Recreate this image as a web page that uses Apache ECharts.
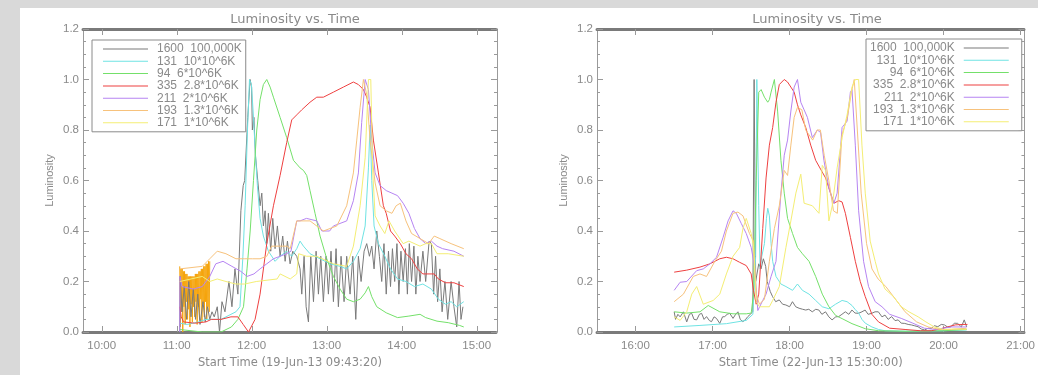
<!DOCTYPE html>
<html><head><meta charset="utf-8">
<script src="https://cdn.jsdelivr.net/npm/echarts@6/dist/echarts.min.js"></script>
<style>html,body{margin:0;padding:0;background:#d9d9d9}#c{width:1038px;height:375px}</style>
</head><body><div id="c"></div><script>
// ---------- DATA ----------
const seriesNames = ['1600  100,000K','131  10*10^6K','94  6*10^6K','335  2.8*10^6K','211  2*10^6K','193  1.3*10^6K','171  1*10^6K'];
const titleText = 'Luminosity vs. Time';
const yName = 'Luminosity';
const xNameL = 'Start Time (19-Jun-13 09:43:20)';
const xNameR = 'Start Time (22-Jun-13 15:30:00)';
const xTicksL = [10,11,12,13,14,15];
const xTicksR = [16,17,18,19,20,21];
const xRangeL = [9.75, 15.27];
const xRangeR = [15.5, 21.05];

// Left panel (time in decimal hours, luminosity)
const L1600 = [[11.04,0.0],[11.045,0.22],[11.07,0.08],[11.10,0.18],[11.13,0.05],[11.16,0.20],[11.19,0.06],[11.22,0.17],[11.25,0.05],[11.28,0.15],[11.31,0.03],[11.35,0.12],[11.38,0.04],[11.41,0.10],[11.44,0.05],[11.47,0.08],[11.50,0.06],[11.54,0.10],[11.57,0.0],[11.603,0.12],[11.643,0.08],[11.696,0.20],[11.736,0.10],[11.776,0.25],[11.815,0.15],[11.855,0.48],[11.886,0.58],[11.906,0.60],[11.947,0.85],[11.978,1.0],[11.998,0.97],[12.008,0.80],[12.029,0.85],[12.049,0.70],[12.08,0.60],[12.111,0.50],
[12.134,0.55],[12.155,0.42],[12.178,0.48],[12.200,0.35],[12.222,0.47],[12.253,0.32],[12.280,0.45],[12.311,0.33],[12.342,0.42],[12.378,0.30],[12.413,0.38],[12.445,0.28],[12.476,0.36],[12.511,0.27],[12.547,0.32],[12.600,0.30],[12.644,0.25],[12.667,0.15],[12.698,0.30],[12.725,0.10],[12.756,0.04],[12.787,0.30],[12.823,0.12],[12.858,0.32],[12.889,0.15],[12.920,0.30],[12.955,0.12],[12.991,0.30],[13.022,0.15],[13.057,0.32],[13.089,0.12],[13.124,0.33],[13.155,0.10],[13.191,0.30],[13.231,0.12],[13.266,0.30],[13.311,0.15],[13.347,0.30],[13.387,0.05],[13.422,0.30],[13.458,0.20],[13.498,0.32],[13.533,0.35],[13.569,0.30],[13.600,0.34],[13.631,0.25],[13.667,0.40],[13.702,0.30],[13.733,0.20],[13.763,0.35],[13.793,0.15],[13.823,0.32],[13.850,0.18],[13.876,0.33],[13.906,0.20],[13.936,0.35],[13.962,0.15],[13.989,0.32],[14.019,0.20],[14.049,0.33],[14.075,0.15],[14.101,0.35],[14.131,0.20],[14.162,0.34],[14.188,0.15],[14.215,0.30],[14.244,0.20],[14.282,0.32],[14.319,0.20],[14.365,0.36],[14.395,0.35],[14.425,0.15],[14.451,0.30],[14.478,0.12],[14.508,0.25],[14.538,0.08],[14.576,0.20],[14.613,0.05],[14.658,0.20],[14.696,0.10],[14.733,0.02],[14.764,0.20],[14.790,0.05],[14.816,0.10]];
const L131 = [[11.04,0.035],[11.14,0.03],[11.29,0.04],[11.39,0.05],[11.49,0.05],[11.59,0.05],[11.7225,0.07],[11.789,0.08],[11.843,0.10],[11.882,0.30],[11.912,0.50],[11.943,0.80],[11.970,1.0],[11.996,0.98],[12.023,0.85],[12.05,0.70],[12.075,0.58],[12.111,0.45],[12.155,0.38],[12.222,0.32],[12.311,0.28],[12.378,0.30],[12.466,0.32],[12.533,0.30],[12.600,0.33],[12.644,0.36],[12.689,0.34],[12.777,0.31],[12.911,0.29],[13.044,0.27],[13.178,0.26],[13.266,0.25],[13.355,0.28],[13.445,0.33],[13.512,0.42],[13.556,0.65],[13.578,0.82],[13.600,0.60],[13.631,0.42],[13.689,0.35],[13.774,0.30],[13.850,0.25],[13.944,0.21],[14.056,0.20],[14.169,0.18],[14.282,0.19],[14.395,0.17],[14.488,0.13],[14.583,0.11],[14.658,0.12],[14.733,0.10],[14.827,0.12]];
const L94 = [[11.04,0.01],[11.34,0.0],[11.59,0.0],[11.729,0.02],[11.815,0.05],[11.890,0.10],[11.937,0.25],[11.979,0.40],[12.023,0.60],[12.067,0.80],[12.111,0.92],[12.155,0.98],[12.200,1.0],[12.245,0.97],[12.289,0.93],[12.378,0.85],[12.466,0.77],[12.556,0.68],[12.600,0.665],[12.644,0.65],[12.689,0.64],[12.733,0.62],[12.777,0.56],[12.844,0.47],[12.911,0.38],[13.000,0.29],[13.089,0.22],[13.178,0.17],[13.266,0.13],[13.355,0.12],[13.445,0.13],[13.512,0.155],[13.556,0.18],[13.600,0.14],[13.667,0.10],[13.793,0.076],[13.944,0.057],[14.095,0.063],[14.244,0.07],[14.319,0.057],[14.470,0.043],[14.620,0.037],[14.771,0.026],[14.827,0.02]];
const L335 = [[11.04,0.10],[11.06,0.06],[11.09,0.04],[11.24,0.035],[11.39,0.04],[11.46,0.05],[11.59,0.05],[11.7225,0.06],[11.815,0.06],[11.886,0.03],[11.957,0.0],[11.979,0.0],[12.044,0.05],[12.111,0.15],[12.200,0.35],[12.289,0.50],[12.378,0.62],[12.466,0.75],[12.533,0.84],[12.600,0.86],[12.667,0.88],[12.777,0.91],[12.867,0.93],[12.955,0.93],[13.089,0.95],[13.222,0.97],[13.355,0.99],[13.422,0.98],[13.489,0.96],[13.533,0.93],[13.578,0.89],[13.622,0.76],[13.689,0.63],[13.755,0.50],[13.793,0.47],[13.850,0.40],[13.906,0.38],[13.981,0.35],[14.056,0.31],[14.131,0.29],[14.207,0.25],[14.282,0.23],[14.433,0.23],[14.488,0.21],[14.583,0.195],[14.696,0.195],[14.827,0.18]];
const L211 = [[11.04,0.0],[11.043,0.22],[11.07,0.18],[11.22,0.17],[11.34,0.18],[11.44,0.22],[11.52,0.27],[11.617,0.28],[11.736,0.26],[11.855,0.24],[11.937,0.22],[12.029,0.23],[12.111,0.25],[12.200,0.27],[12.289,0.29],[12.378,0.30],[12.466,0.31],[12.523,0.32],[12.600,0.44],[12.644,0.44],[12.729,0.45],[12.867,0.44],[12.935,0.40],[13.038,0.40],[13.089,0.42],[13.266,0.44],[13.355,0.52],[13.422,0.63],[13.466,0.83],[13.512,1.0],[13.556,0.96],[13.600,0.76],[13.645,0.63],[13.711,0.58],[13.793,0.56],[13.869,0.55],[13.944,0.54],[14.019,0.51],[14.095,0.47],[14.169,0.41],[14.244,0.37],[14.319,0.35],[14.395,0.36],[14.470,0.34],[14.545,0.33],[14.696,0.32],[14.827,0.30]];
const L193 = [[11.04,0.25],[11.34,0.26],[11.44,0.29],[11.54,0.32],[11.656,0.31],[11.789,0.29],[11.906,0.29],[12.009,0.29],[12.111,0.29],[12.200,0.30],[12.265,0.34],[12.471,0.34],[12.513,0.33],[12.600,0.44],[12.777,0.44],[12.955,0.40],[13.134,0.42],[13.266,0.50],[13.355,0.63],[13.400,0.76],[13.445,0.89],[13.489,1.0],[13.533,0.94],[13.578,0.76],[13.645,0.59],[13.711,0.50],[13.793,0.48],[13.869,0.47],[13.925,0.50],[13.981,0.51],[14.056,0.44],[14.131,0.39],[14.244,0.37],[14.358,0.35],[14.433,0.38],[14.508,0.37],[14.658,0.35],[14.827,0.33]];
const L171 = [[11.04,0.20],[11.34,0.22],[11.44,0.20],[11.54,0.21],[11.656,0.20],[11.789,0.19],[11.906,0.19],[12.06,0.20],[12.338,0.21],[12.379,0.23],[12.513,0.21],[12.600,0.23],[12.626,0.31],[12.729,0.30],[12.867,0.30],[13.089,0.27],[13.266,0.26],[13.355,0.34],[13.445,0.50],[13.512,0.69],[13.556,1.0],[13.587,1.0],[13.614,0.63],[13.645,0.46],[13.711,0.42],[13.774,0.39],[13.830,0.44],[13.906,0.40],[14.019,0.35],[14.095,0.36],[14.244,0.34],[14.319,0.35],[14.395,0.35],[14.470,0.31],[14.620,0.31],[14.827,0.30]];
// saturated orange burst at the start of the 193 channel
const L193burst = [[11.040,0.26],[11.048,0.02],[11.056,0.25],[11.064,0.08],[11.072,0.25],[11.080,0.0],[11.088,0.24],[11.096,0.10],[11.104,0.24],[11.112,0.03],[11.120,0.23],[11.128,0.12],[11.136,0.23],[11.144,0.05],[11.152,0.22],[11.160,0.09],[11.168,0.22],[11.176,0.02],[11.184,0.22],[11.192,0.11],[11.200,0.22],[11.208,0.04],[11.216,0.22],[11.224,0.10],[11.232,0.22],[11.240,0.06],[11.248,0.23],[11.256,0.12],[11.264,0.23],[11.272,0.03],[11.280,0.23],[11.288,0.10],[11.296,0.24],[11.304,0.05],[11.312,0.24],[11.320,0.13],[11.328,0.25],[11.336,0.04],[11.344,0.25],[11.352,0.11],[11.360,0.26],[11.368,0.06],[11.376,0.26],[11.384,0.12],[11.392,0.27],[11.400,0.05],[11.408,0.27],[11.416,0.10],[11.424,0.28],[11.432,0.08],[11.440,0.28]];

// Right panel
const R1600 = [[16.502,0.08],[16.52,0.05],[16.55,0.07],[16.579,0.06],[16.622,0.08],[16.665,0.04],[16.70,0.07],[16.729,0.074],[16.76,0.05],[16.794,0.048],[16.83,0.07],[16.858,0.074],[16.89,0.05],[16.922,0.061],[16.96,0.045],[16.987,0.041],[17.02,0.06],[17.051,0.054],[17.094,0.034],[17.13,0.06],[17.158,0.061],[17.19,0.07],[17.223,0.074],[17.266,0.054],[17.30,0.07],[17.33,0.08],[17.36,0.05],[17.394,0.041],[17.43,0.05],[17.458,0.061],[17.49,0.07],[17.523,0.08],[17.54,1.0],[17.56,0.20],[17.60,0.27],[17.63,0.25],[17.66,0.29],[17.69,0.26],[17.71,0.20],[17.75,0.16],[17.78,0.14],[17.82,0.12],[17.866,0.127],[17.91,0.11],[17.952,0.107],[18.0,0.10],[18.038,0.12],[18.08,0.10],[18.124,0.094],[18.17,0.09],[18.21,0.087],[18.25,0.09],[18.295,0.08],[18.34,0.09],[18.381,0.087],[18.42,0.07],[18.467,0.08],[18.51,0.06],[18.552,0.048],[18.60,0.06],[18.638,0.061],[18.68,0.07],[18.724,0.08],[18.77,0.07],[18.81,0.087],[18.85,0.075],[18.896,0.074],[18.94,0.08],[18.981,0.087],[19.02,0.07],[19.067,0.074],[19.11,0.08],[19.153,0.08],[19.20,0.06],[19.239,0.067],[19.28,0.05],[19.325,0.061],[19.37,0.045],[19.41,0.048],[19.45,0.035],[19.496,0.034],[19.54,0.03],[19.582,0.028],[19.62,0.025],[19.668,0.021],[19.71,0.012],[19.754,0.008],[19.80,0.015],[19.84,0.014],[19.88,0.025],[19.925,0.021],[19.97,0.03],[20.011,0.028],[20.05,0.02],[20.097,0.021],[20.14,0.035],[20.183,0.034],[20.23,0.02],[20.268,0.048],[20.30,0.02]];
const R131 = [[16.502,0.02],[16.837,0.026],[17.18,0.033],[17.438,0.046],[17.524,0.07],[17.56,0.30],[17.575,1.0],[17.59,1.0],[17.60,0.50],[17.618,0.25],[17.64,0.30],[17.674,0.35],[17.70,0.45],[17.717,0.49],[17.738,0.46],[17.76,0.35],[17.781,0.28],[17.824,0.22],[17.888,0.19],[17.953,0.18],[18.039,0.165],[18.103,0.19],[18.167,0.165],[18.253,0.15],[18.339,0.125],[18.425,0.10],[18.511,0.092],[18.597,0.11],[18.682,0.125],[18.747,0.12],[18.811,0.105],[18.85,0.09],[18.897,0.075],[18.94,0.05],[18.983,0.035],[19.069,0.02],[19.155,0.01],[19.24,0.005],[19.5,0.003],[20.0,0.005],[20.3,0.008]];
const R94 = [[16.502,0.08],[16.665,0.075],[16.837,0.08],[16.944,0.105],[17.094,0.08],[17.266,0.072],[17.438,0.072],[17.502,0.075],[17.532,0.15],[17.567,0.60],[17.60,0.95],[17.631,0.96],[17.674,0.93],[17.717,0.91],[17.738,0.92],[17.76,0.95],[17.803,1.0],[17.845,0.875],[17.888,0.68],[17.931,0.55],[17.974,0.45],[18.039,0.39],[18.103,0.335],[18.167,0.31],[18.253,0.28],[18.339,0.22],[18.425,0.15],[18.511,0.10],[18.597,0.066],[18.682,0.053],[18.811,0.033],[18.983,0.013],[19.155,0.005],[19.5,0.003],[20.0,0.005],[20.3,0.01]];
const R335 = [[16.502,0.237],[16.665,0.245],[16.837,0.257],[16.966,0.27],[17.094,0.29],[17.18,0.296],[17.266,0.29],[17.352,0.276],[17.438,0.263],[17.502,0.23],[17.532,0.165],[17.567,0.11],[17.60,0.15],[17.652,0.41],[17.695,0.61],[17.738,0.74],[17.781,0.81],[17.824,0.91],[17.867,0.98],[17.931,1.0],[17.974,0.99],[18.017,0.97],[18.06,0.95],[18.103,0.90],[18.146,0.86],[18.21,0.81],[18.275,0.74],[18.339,0.68],[18.403,0.645],[18.468,0.61],[18.532,0.55],[18.575,0.51],[18.639,0.52],[18.682,0.515],[18.725,0.47],[18.79,0.375],[18.854,0.28],[18.918,0.20],[18.983,0.14],[19.069,0.07],[19.155,0.04],[19.3,0.015],[19.5,0.01],[19.7,0.005],[19.84,0.005],[19.95,0.012],[20.05,0.02],[20.15,0.028],[20.25,0.03],[20.31,0.03]];
const R211 = [[16.502,0.165],[16.579,0.197],[16.665,0.20],[16.794,0.243],[16.88,0.25],[16.966,0.27],[17.052,0.296],[17.137,0.375],[17.202,0.44],[17.266,0.48],[17.309,0.47],[17.373,0.43],[17.438,0.39],[17.502,0.335],[17.545,0.26],[17.588,0.085],[17.609,0.09],[17.652,0.125],[17.695,0.15],[17.76,0.22],[17.824,0.28],[17.888,0.55],[17.931,0.70],[17.974,0.76],[18.017,0.875],[18.06,0.97],[18.103,1.0],[18.146,0.91],[18.189,0.88],[18.232,0.85],[18.296,0.77],[18.361,0.80],[18.403,0.79],[18.446,0.68],[18.511,0.57],[18.575,0.51],[18.618,0.55],[18.682,0.81],[18.747,0.835],[18.79,0.95],[18.811,0.96],[18.854,0.74],[18.897,0.48],[18.961,0.28],[19.026,0.18],[19.112,0.12],[19.2,0.10],[19.3,0.07],[19.45,0.054],[19.6,0.035],[19.75,0.015],[19.9,0.01],[20.1,0.02],[20.3,0.02]];
const R193 = [[16.502,0.12],[16.622,0.15],[16.75,0.22],[16.837,0.23],[16.922,0.22],[17.03,0.28],[17.116,0.32],[17.18,0.40],[17.266,0.47],[17.33,0.475],[17.395,0.46],[17.48,0.39],[17.532,0.36],[17.567,0.15],[17.609,0.11],[17.674,0.13],[17.738,0.28],[17.803,0.41],[17.867,0.50],[17.931,0.64],[17.974,0.62],[18.017,0.74],[18.06,0.85],[18.103,0.89],[18.16,0.88],[18.21,0.80],[18.30,0.76],[18.36,0.80],[18.40,0.80],[18.45,0.70],[18.51,0.60],[18.57,0.48],[18.62,0.47],[18.68,0.78],[18.75,0.85],[18.81,0.96],[18.84,1.0],[18.88,0.80],[18.93,0.55],[19.0,0.35],[19.07,0.25],[19.15,0.21],[19.25,0.18],[19.4,0.12],[19.5,0.08],[19.65,0.04],[19.8,0.02],[19.95,0.01],[20.1,0.01],[20.3,0.015]];
const R171 = [[16.502,0.06],[16.579,0.046],[16.665,0.08],[16.73,0.15],[16.794,0.18],[16.88,0.11],[17.009,0.125],[17.094,0.15],[17.18,0.23],[17.266,0.30],[17.352,0.335],[17.395,0.41],[17.438,0.45],[17.502,0.39],[17.532,0.34],[17.567,0.12],[17.609,0.10],[17.738,0.10],[17.781,0.125],[17.867,0.18],[17.953,0.335],[18.017,0.44],[18.082,0.55],[18.146,0.625],[18.189,0.51],[18.296,0.50],[18.382,0.47],[18.425,0.66],[18.468,0.64],[18.511,0.44],[18.554,0.50],[18.618,0.65],[18.682,0.77],[18.747,0.86],[18.811,0.97],[18.854,1.0],[18.897,1.0],[18.94,0.74],[18.983,0.55],[19.047,0.36],[19.112,0.28],[19.155,0.23],[19.24,0.17],[19.35,0.14],[19.45,0.10],[19.55,0.08],[19.67,0.06],[19.77,0.04],[19.88,0.02],[20.0,0.01],[20.15,0.012],[20.3,0.01]];

// ---------- STYLE ----------
const colors = ['#7a7a7a','#6fe3e3','#74e06a','#ee4040','#b684f2','#f7c27c','#f4ee74'];
const burstColor = '#f5a40c';
const txt = '#8a8a8a';
const font = 'Liberation Sans';
const font2 = 'DejaVu Sans';

const chart = echarts.init(document.getElementById('c'), null, {renderer:'canvas'});
const grids = [
  {left:83, top:29, width:414, height:303},
  {left:597, top:29, width:430, height:303}
];
function xPair(gi, range, ticks, name){
  const common = {type:'value', gridIndex:gi, min:range[0], max:range[1], splitLine:{show:false},
    axisLine:{show:true, onZero:false, lineStyle:{color:'#7a7a7a', width:3, type:[1,1]}},
    axisTick:{show:true, inside:true, length:6, customValues:ticks, lineStyle:{color:'#9a9a9a'}}};
  return [
    Object.assign({}, common, {position:'bottom',
      axisLabel:{show:true, customValues:ticks, formatter:v=>Math.round(v)+':00', color:txt, fontSize:11.5, fontFamily:font, margin:8},
      name:name, nameLocation:'middle', nameGap:20, nameTextStyle:{color:txt, fontSize:11.5, fontFamily:font2}}),
    Object.assign({}, common, {position:'top', axisLabel:{show:false}})
  ];
}
function yPair(gi){
  const common = {type:'value', gridIndex:gi, min:0, max:1.2, interval:0.2, splitLine:{show:false},
    axisLine:{show:true, onZero:false, lineStyle:{color:'#9a9a9a', width:1}},
    axisTick:{show:true, inside:true, length:6, lineStyle:{color:'#9a9a9a'}},
    minorTick:{show:true, splitNumber:4, length:3, lineStyle:{color:'#9a9a9a'}}};
  return [
    Object.assign({}, common, {position:'left',
      axisLabel:{formatter:v=>v.toFixed(1), color:txt, fontSize:11.5, fontFamily:font, margin:4},
      name:yName, nameLocation:'middle', nameGap:28, nameRotate:90, nameTextStyle:{color:txt, fontSize:11, fontFamily:font}}),
    Object.assign({}, common, {position:'right', axisLabel:{show:false}})
  ];
}
const xAxes = [...xPair(0, xRangeL, xTicksL, xNameL), ...xPair(1, xRangeR, xTicksR, xNameR)];
const yAxes = [...yPair(0), ...yPair(1)];

function line(name, data, color, xi, yi, z){
  return {type:'line', name, data, xAxisIndex:xi, yAxisIndex:yi, symbol:'none', showSymbol:false,
    lineStyle:{width:1, color}, itemStyle:{color}, z:z||2, animation:false};
}
const leftData = [L1600,L131,L94,L335,L211,L193,L171];
const rightData = [R1600,R131,R94,R335,R211,R193,R171];
const series = [line('193 burst', L193burst, burstColor, 0, 0, 1)];
seriesNames.forEach((n,i)=>series.push(line(n, leftData[i], colors[i], 0, 0)));
seriesNames.forEach((n,i)=>series.push(line(n, rightData[i], colors[i], 2, 2)));

const legendCommon = {data:seriesNames, orient:'vertical', icon:'rect', itemWidth:45, itemHeight:1,
  itemGap:0.3, selectedMode:false, borderColor:'#8a8a8a', borderWidth:1, backgroundColor:'#fff',
  itemStyle:{borderWidth:0}};
const titleStyle = {color:txt, fontSize:13, fontWeight:'normal', fontFamily:font2};
chart.setOption({
  animation:false,
  backgroundColor:'transparent',
  graphic:[{type:'rect', shape:{x:20, y:8, width:1018, height:367}, style:{fill:'#ffffff'}, z:-10, silent:true}],
  title:[
    {text:titleText, left:290, top:8, textAlign:'center', textStyle:titleStyle},
    {text:titleText, left:812, top:8, textAlign:'center', textStyle:titleStyle}
  ],
  legend:[
    Object.assign({}, legendCommon, {left:92, top:40, align:'left', padding:[3,4,3,11],
      textStyle:{color:txt, fontSize:12, fontFamily:font, lineHeight:12, padding:[0,0,0,4]}}),
    Object.assign({}, legendCommon, {left:866, top:39, align:'right', padding:[3,13,3,4],
      formatter:n=>'{a|'+n+'}',
      textStyle:{color:txt, fontSize:12, fontFamily:font, lineHeight:12,
        rich:{a:{width:82, align:'right', color:txt, fontSize:12, fontFamily:font, lineHeight:12, padding:[0,4,0,0]}}}})
  ],
  grid:grids,
  xAxis:xAxes,
  yAxis:yAxes,
  series:series
});
</script></body></html>
